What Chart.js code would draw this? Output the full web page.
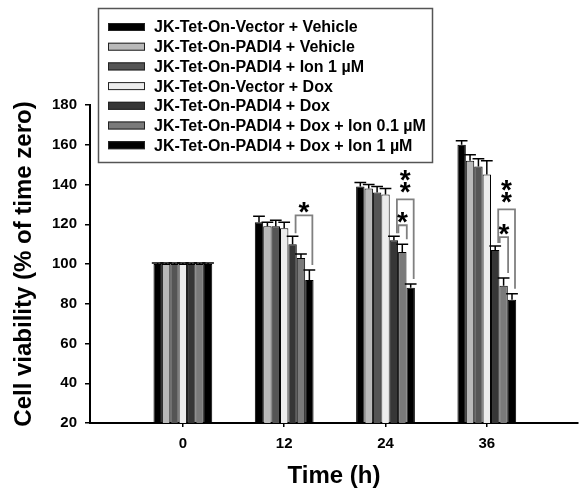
<!DOCTYPE html>
<html>
<head>
<meta charset="utf-8">
<script src="https://cdn.jsdelivr.net/npm/chart.js@4.4.0/dist/chart.umd.min.js"></script>
<style>
  html, body { margin: 0; padding: 0; background: #fff; }
</style>
</head>
<body>
<canvas id="myChart" width="581" height="492"></canvas>
<script>
// time points (h)
const times = [0, 12, 24, 36];

const seriesNames = [
  'JK-Tet-On-Vector + Vehicle',
  'JK-Tet-On-PADI4 + Vehicle',
  'JK-Tet-On-PADI4 + Ion 1 \u00b5M',
  'JK-Tet-On-Vector + Dox',
  'JK-Tet-On-PADI4 + Dox',
  'JK-Tet-On-PADI4 + Dox + Ion 0.1 \u00b5M',
  'JK-Tet-On-PADI4 + Dox + Ion 1 \u00b5M'
];

// cell viability (% of time zero)
const vectorVehicle = [100, 121, 139, 160];
const padiVehicle   = [100, 119, 138, 152];
const padiIon1      = [100, 119, 136, 149];
const vectorDox     = [100, 118, 135, 145];
const padiDox       = [100, 110, 112, 107];
const padiDoxIon01  = [100, 103, 106, 89];
const padiDoxIon1   = [100, 92, 88, 82];

// error bars (SD)
const vectorVehicleErr = [0.5, 3, 2, 2];
const padiVehicleErr   = [0.5, 2, 2, 3];
const padiIon1Err      = [0.5, 3, 3, 4];
const vectorDoxErr     = [0.5, 3, 3, 7];
const padiDoxErr       = [0.5, 4, 2, 2];
const padiDoxIon01Err  = [0.5, 2, 4, 4];
const padiDoxIon1Err   = [0.5, 5, 2, 3];

const yTicks = [20, 40, 60, 80, 100, 120, 140, 160, 180];

// significance: time index, first bar, last bar, bracket level, stars
const brackets = [
  { group: 1, from: 4, to: 6, level: 124.5, label: '*' },
  { group: 2, from: 4, to: 6, level: 132.5, label: '**' },
  { group: 2, from: 4, to: 5, level: 119.5, label: '*' },
  { group: 3, from: 4, to: 6, level: 127.5, label: '**' },
  { group: 3, from: 4, to: 5, level: 113.5, label: '*' }
];

const allValues = [vectorVehicle, padiVehicle, padiIon1, vectorDox, padiDox, padiDoxIon01, padiDoxIon1];
const allErrors = [vectorVehicleErr, padiVehicleErr, padiIon1Err, vectorDoxErr, padiDoxErr, padiDoxIon01Err, padiDoxIon1Err];
const fills = ['#000000', '#b9b9b9', '#555555', '#ececec', '#363636', '#7a7a7a', '#000000'];

const FONT = "'Liberation Sans', Arial, sans-serif";
Chart.defaults.font.family = FONT;
Chart.defaults.color = '#000';

const errorBars = {
  id: 'errorBars',
  afterDatasetsDraw(chart) {
    const ctx = chart.ctx;
    const y = chart.scales.y;
    ctx.save();
    ctx.strokeStyle = '#000';
    ctx.lineWidth = 1.5;
    chart.data.datasets.forEach((ds, di) => {
      chart.getDatasetMeta(di).data.forEach((bar, i) => {
        const top = y.getPixelForValue(allValues[di][i] + allErrors[di][i]);
        const half = bar.width * 0.7;
        ctx.beginPath();
        ctx.moveTo(bar.x, bar.y);
        ctx.lineTo(bar.x, top);
        ctx.moveTo(bar.x - half, top);
        ctx.lineTo(bar.x + half, top);
        ctx.stroke();
      });
    });
    ctx.restore();
  }
};

function drawStar(ctx, cx, cy) {
  ctx.font = 'bold 28px ' + FONT;
  ctx.textAlign = 'left';
  ctx.textBaseline = 'alphabetic';
  const m = ctx.measureText('*');
  const x = cx - (m.actualBoundingBoxRight - m.actualBoundingBoxLeft) / 2;
  const base = cy - (m.actualBoundingBoxDescent - m.actualBoundingBoxAscent) / 2;
  ctx.fillText('*', x, base);
}

const sigBrackets = {
  id: 'sigBrackets',
  afterDatasetsDraw(chart) {
    const ctx = chart.ctx;
    const y = chart.scales.y;
    ctx.save();
    brackets.forEach(b => {
      const barA = chart.getDatasetMeta(b.from).data[b.group];
      const barB = chart.getDatasetMeta(b.to).data[b.group];
      const shift = (b.to - b.from === 1) ? 4.5 : 3;
      const xa = barA.x + shift, xb = barB.x + shift;
      const yt = y.getPixelForValue(b.level);
      const ya = y.getPixelForValue(allValues[b.from][b.group] + allErrors[b.from][b.group]) - 3;
      const yb = y.getPixelForValue(allValues[b.to][b.group] + allErrors[b.to][b.group]) - 5;
      ctx.strokeStyle = '#808080';
      ctx.lineWidth = 1.8;
      ctx.beginPath();
      ctx.moveTo(xa, ya);
      ctx.lineTo(xa, yt);
      ctx.lineTo(xb, yt);
      ctx.lineTo(xb, yb);
      ctx.stroke();
      ctx.fillStyle = '#000';
      const cx = (xa + xb) / 2;
      if (b.label === '*') {
        drawStar(ctx, cx, yt - 8);
      } else {
        drawStar(ctx, cx, yt - 12);
        drawStar(ctx, cx, yt - 24);
      }
    });
    ctx.restore();
  }
};

const boxLegend = {
  id: 'boxLegend',
  afterDraw(chart) {
    const ctx = chart.ctx;
    ctx.save();
    ctx.fillStyle = '#fff';
    ctx.fillRect(98, 8, 335, 155);
    ctx.strokeStyle = '#555';
    ctx.lineWidth = 1.5;
    ctx.strokeRect(98.5, 8.5, 334, 154);
    ctx.font = 'bold 16px ' + FONT;
    ctx.textBaseline = 'middle';
    ctx.textAlign = 'left';
    chart.data.datasets.forEach((ds, i) => {
      const yc = 27 + i * 19.7;
      ctx.fillStyle = ds.backgroundColor;
      ctx.fillRect(108, yc - 4, 37, 8);
      ctx.strokeStyle = '#222';
      ctx.lineWidth = 1;
      ctx.strokeRect(108.5, yc - 3.5, 36, 7);
      ctx.fillStyle = '#000';
      ctx.fillText(ds.label, 154, yc + 1);
    });
    ctx.restore();
  }
};

const data = {
  datasets: seriesNames.map((name, i) => ({
    label: name,
    data: times.map((t, j) => ({ x: t, y: allValues[i][j] })),
    backgroundColor: fills[i],
    borderColor: '#000',
    borderWidth: 1,
    categoryPercentage: 0.58,
    barPercentage: 1.0
  }))
};

const config = {
  type: 'bar',
  data: data,
  options: {
    responsive: false,
    animation: false,
    devicePixelRatio: 1,
    layout: { padding: { top: 105, right: 3, left: 0, bottom: 0 } },
    plugins: {
      legend: { display: false },
      tooltip: { enabled: false }
    },
    scales: {
      x: {
        type: 'linear',
        min: -11,
        max: 46.8,
        offset: false,
        afterBuildTicks: s => { s.ticks = times.map(v => ({ value: v })); },
        afterFit: s => { s.height = 69; },
        grid: { offset: false, drawOnChartArea: false, drawTicks: true, tickLength: 4, color: '#000', lineWidth: 1.5 },
        border: { color: '#000', width: 2 },
        ticks: { padding: 8, font: { size: 15, weight: 'bold' }, callback: v => String(v) },
        title: { display: true, text: 'Time (h)', font: { size: 24, weight: 'bold' }, padding: { top: 0, bottom: 1 } }
      },
      y: {
        min: 20,
        max: 180,
        afterBuildTicks: s => { s.ticks = yTicks.map(v => ({ value: v })); },
        afterFit: s => { s.width = 90; },
        grid: { drawOnChartArea: false, drawTicks: true, tickLength: 5, color: '#000', lineWidth: 1.5 },
        border: { color: '#000', width: 2 },
        ticks: { padding: 8, font: { size: 15, weight: 'bold' } },
        title: { display: true, text: 'Cell viability (% of time zero)', font: { size: 24, weight: 'bold' }, padding: { top: 10, bottom: 0 } }
      }
    }
  },
  plugins: [errorBars, sigBrackets, boxLegend]
};

const myChart = new Chart(document.getElementById('myChart'), config);
</script>
</body>
</html>
